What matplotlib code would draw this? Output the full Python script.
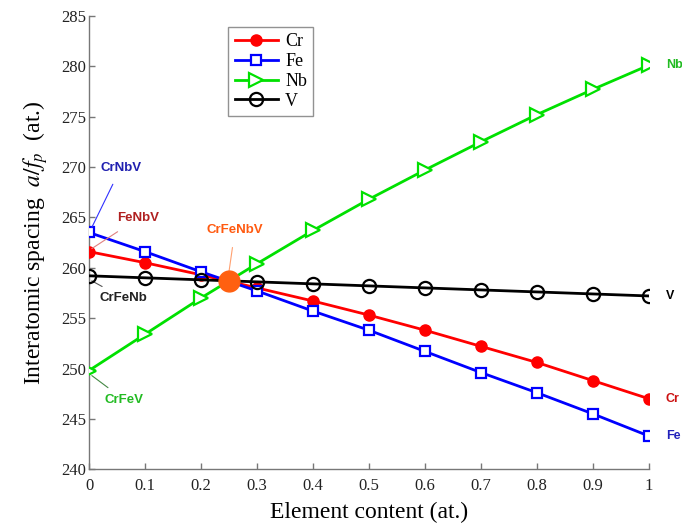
import matplotlib
matplotlib.use("Agg")
import matplotlib.pyplot as plt

plt.rcParams["mathtext.fontset"] = "stix"

x = [0.0, 0.1, 0.2, 0.3, 0.4, 0.5, 0.6, 0.7, 0.8, 0.9, 1.0]
cr = [261.6, 260.5, 259.3, 258.0, 256.7, 255.3, 253.8, 252.2, 250.6, 248.8, 247.0]
fe = [263.5, 261.6, 259.6, 257.7, 255.7, 253.8, 251.7, 249.6, 247.6, 245.5, 243.3]
nb = [249.8, 253.4, 257.0, 260.4, 263.7, 266.8, 269.7, 272.5, 275.2, 277.7, 280.1]
v = [259.2, 259.0, 258.8, 258.6, 258.4, 258.2, 258.0, 257.8, 257.6, 257.4, 257.2]
eq_x, eq_y = 0.25, 258.7

xticks = [0, 0.1, 0.2, 0.3, 0.4, 0.5, 0.6, 0.7, 0.8, 0.9, 1]
xticklabels = ["0", "0.1", "0.2", "0.3", "0.4", "0.5", "0.6", "0.7", "0.8", "0.9", "1"]
yticks = [240, 245, 250, 255, 260, 265, 270, 275, 280, 285]

serif = ["Liberation Serif", "DejaVu Serif"]
sans = ["Liberation Sans", "DejaVu Sans"]

fig = plt.figure(figsize=(6.82, 5.27), dpi=100)
ax = fig.add_axes([0.1305, 0.1095, 0.821, 0.8605])

lw = 2.0
ax.plot(x, cr, color="#ff0000", lw=lw, marker="o", ms=8, mfc="#ff0000", mec="#ff0000", label="Cr", zorder=3)
ax.plot(x, fe, color="#0000ff", lw=lw, marker="s", ms=7.5, mfc="white", mec="#0000ff", mew=1.6, label="Fe", zorder=3)
ax.plot(x, nb, color="#00e000", lw=lw, marker=">", ms=10, mfc="white", mec="#00e000", mew=1.6, label="Nb", zorder=3)
ax.plot(x, v, color="black", lw=lw, marker="o", ms=9.5, mfc="none", mec="black", mew=1.6, label="V", zorder=4)
ax.plot([eq_x], [eq_y], marker="o", ms=15, color="#ff6010", zorder=5, ls="none")

ax.set_xlim(0, 1)
ax.set_ylim(240, 285)
ax.set_xticks(xticks)
ax.set_xticklabels(xticklabels)
ax.set_yticks(yticks)
for lab in ax.get_xticklabels() + ax.get_yticklabels():
    lab.set_fontfamily(serif)
    lab.set_fontsize(12)
    lab.set_color("#222222")
ax.tick_params(direction="in", length=4, color="#777777", width=1)
ax.tick_params(axis="x", pad=6)
ax.tick_params(axis="y", pad=2)
for s in ("top", "right"):
    ax.spines[s].set_visible(False)
for s in ("left", "bottom"):
    ax.spines[s].set_color("#777777")
    ax.spines[s].set_linewidth(1)

ax.set_xlabel("Element content (at.)", fontfamily=serif, fontsize=17, labelpad=6)
ax.set_ylabel(r"Interatomic spacing  $a/f_p$  (at.)", fontfamily=serif, fontsize=17, labelpad=8)

leg = ax.legend(loc="upper left", bbox_to_anchor=(0.2325, 0.995), prop={"family": serif, "size": 13},
                frameon=True, fancybox=False, edgecolor="#777777", handlelength=2.4,
                borderpad=0.35, labelspacing=0.15, handletextpad=0.4)
leg.get_frame().set_linewidth(1)

# end-of-line labels
end_kw = dict(fontfamily=sans, fontsize=9, fontweight="bold", va="center", ha="left")
ax.text(1.03, nb[-1], "Nb", color="#22bb22", **end_kw)
ax.text(1.03, v[-1], "V", color="black", **end_kw)
ax.text(1.03, cr[-1], "Cr", color="#cc1111", **end_kw)
ax.text(1.03, fe[-1], "Fe", color="#2222bb", **end_kw)

# composition callouts
ann_kw = dict(fontfamily=sans, fontsize=9.5, fontweight="bold", va="center", ha="left")
ax.annotate("CrNbV", xy=(0.005, fe[0] + 0.5), xytext=(0.02, 269.9), color="#2020b0",
            arrowprops=dict(arrowstyle="-", color="#3030ff", lw=0.8, shrinkA=6, shrinkB=0), **ann_kw)
ax.annotate("FeNbV", xy=(0.005, cr[0] + 0.3), xytext=(0.05, 264.9), color="#b02020",
            arrowprops=dict(arrowstyle="-", color="#e08080", lw=0.8, shrinkA=6, shrinkB=0), **ann_kw)
ax.annotate("CrFeNbV", xy=(eq_x, eq_y + 0.9), xytext=(0.21, 263.7), color="#ff5a10",
            arrowprops=dict(arrowstyle="-", color="#ffa070", lw=0.8, shrinkA=6, shrinkB=0), **ann_kw)
ax.annotate("CrFeNb", xy=(0.005, v[0] - 0.5), xytext=(0.018, 257.0), color="#222222",
            arrowprops=dict(arrowstyle="-", color="#555555", lw=0.8, shrinkA=4, shrinkB=0), **ann_kw)
ax.annotate("CrFeV", xy=(0.005, nb[0] - 0.5), xytext=(0.028, 246.9), color="#22bb22",
            arrowprops=dict(arrowstyle="-", color="#448844", lw=0.8, shrinkA=4, shrinkB=0), **ann_kw)

for t in ax.texts:
    t.set_clip_on(False)

fig.savefig("out.png", dpi=100)
